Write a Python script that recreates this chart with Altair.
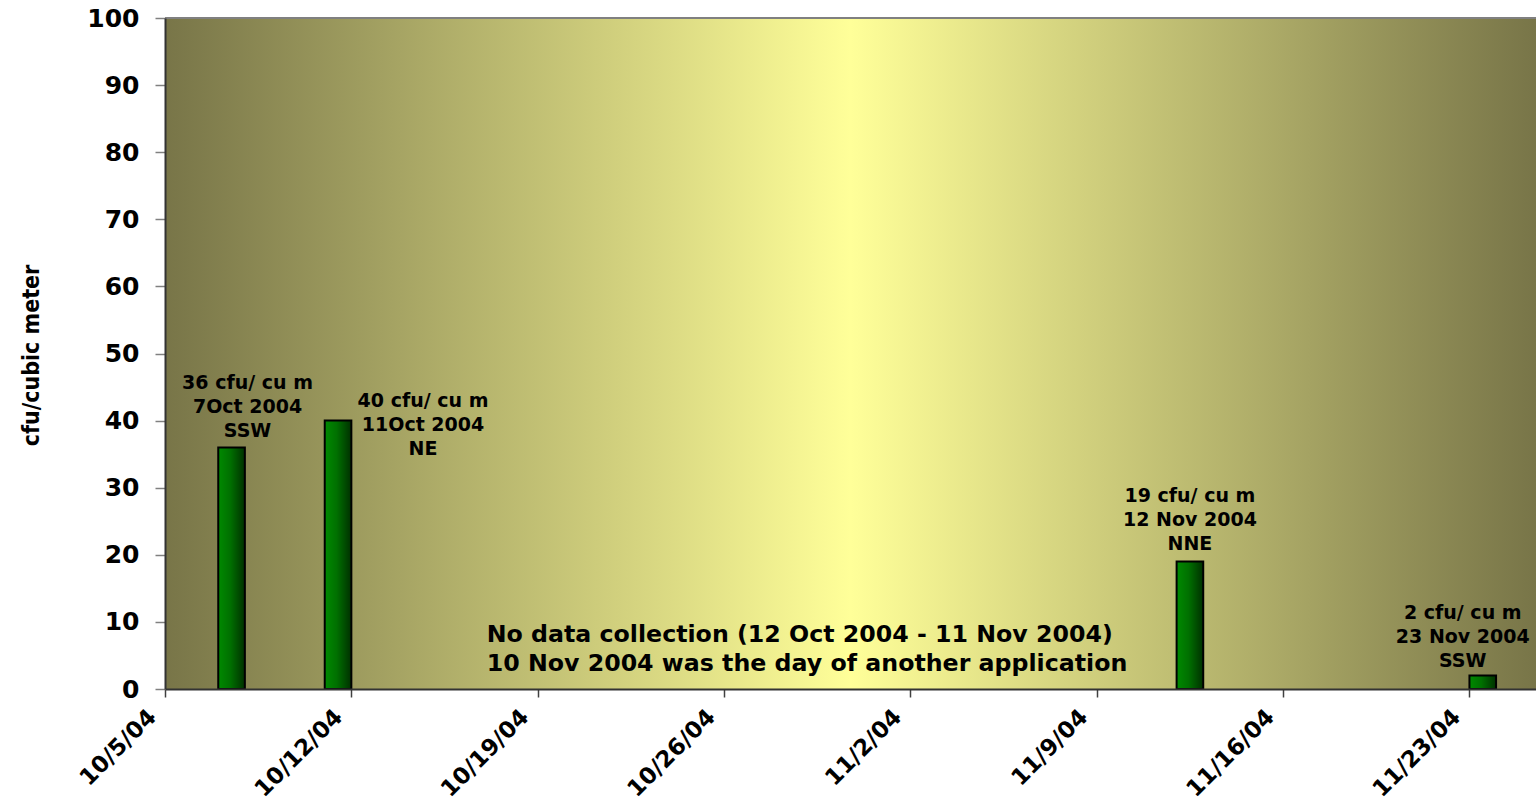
import altair as alt
import pandas as pd

# Airborne counts, one sampling day per bar
sample_dates = ["2004-10-07", "2004-10-11", "2004-11-12", "2004-11-23"]
cfu_values = [36, 40, 19, 2]
date_labels = ["7Oct 2004", "11Oct 2004", "12 Nov 2004", "23 Nov 2004"]
wind_dirs = ["SSW", "NE", "NNE", "SSW"]

# Weekly tick marks on the date axis
tick_dates = ["2004-10-05", "2004-10-12", "2004-10-19", "2004-10-26",
              "2004-11-02", "2004-11-09", "2004-11-16", "2004-11-23"]
y_ticks = [0, 10, 20, 30, 40, 50, 60, 70, 80, 90, 100]

note_lines = ["No data collection (12 Oct 2004 - 11 Nov 2004)",
              "10 Nov 2004 was the day of another application"]
note_anchor = "2004-10-17T02:00:00Z"
note_value = 6

W, H = 1371, 671
FONT = "DejaVu Sans"
ISO = "%Y-%m-%dT%H:%M:%SZ"

start = pd.to_datetime(sample_dates)
bars = pd.DataFrame({
    "start": start.strftime(ISO),
    "end": (start + pd.Timedelta(days=1)).strftime(ISO),
    "mid": (start + pd.Timedelta(hours=12)).strftime(ISO),
    "cfu": cfu_values,
    "label": [[f"{v} cfu/ cu m", d, w] for v, d, w in zip(cfu_values, date_labels, wind_dirs)],
    "idx": list(range(len(cfu_values))),
})


def utc_dt(s):
    t = pd.Timestamp(s)
    return alt.DateTime(year=t.year, month=t.month, date=t.day,
                        hours=t.hour, utc=True)


x_scale = alt.Scale(type="utc",
                    domain=[utc_dt("2004-10-05"), utc_dt("2004-11-25 12:00")])
y_scale = alt.Scale(domain=[0, 100], nice=False)

x_axis = alt.Axis(
    values=[utc_dt(d) for d in tick_dates],
    labelExpr="utcFormat(datum.value, '%-m/%-d/%y')",
    labelAngle=-45, labelAlign="right", labelBaseline="middle",
    labelFont=FONT, labelFontWeight="bold", labelFontSize=23, labelColor="black",
    labelPadding=16, labelOffset=-13, tickSize=8, tickColor="#404040", tickWidth=1.5,
    domainColor="#333333", domainWidth=2, grid=False, title=None, zindex=1,
    labelOverlap=False,
)
y_axis = alt.Axis(
    values=y_ticks, title="cfu/cubic meter",
    labelFont=FONT, labelFontWeight="bold", labelFontSize=25, labelColor="black",
    labelPadding=16, tickSize=10, tickColor="#808080", tickWidth=1.5,
    domainColor="#333333", domainWidth=2, grid=False, zindex=1,
    titleFont="DejaVu Sans Condensed", titleFontWeight="bold", titleFontSize=23,
    titleColor="black", titleAngle=-90, titleAlign="center", titleBaseline="middle",
    titleX=-134, titleY=337,
)

backdrop = alt.Chart(alt.Data(values=[{}])).mark_rect(
    fill=alt.Gradient(
        gradient="linear", x1=0, x2=1, y1=0, y2=0,
        stops=[alt.GradientStop(offset=0, color="#787548"),
               alt.GradientStop(offset=0.5, color="#ffff99"),
               alt.GradientStop(offset=1, color="#787548")],
    )
).encode(x=alt.value(0), x2=alt.value(W), y=alt.value(0), y2=alt.value(H))

columns = alt.Chart(bars).mark_rect(
    fill=alt.Gradient(
        gradient="linear", x1=0, x2=1, y1=0, y2=0,
        stops=[alt.GradientStop(offset=0, color="#008a00"),
               alt.GradientStop(offset=0.45, color="#007000"),
               alt.GradientStop(offset=1, color="#003000")],
    ),
    stroke="black", strokeWidth=2,
).encode(
    x=alt.X("start:T", scale=x_scale, axis=x_axis),
    x2="end:T",
    y=alt.Y("cfu:Q", scale=y_scale, axis=y_axis),
    y2=alt.datum(0),
)

# Each callout sits next to its bar; offsets in pixels (dx, dy) to the first line
callout_offsets = {0: (16, -64), 1: (85, -20), 2: (0, -66), 3: (-20, -63)}

callouts = []
for i, (ox, oy) in callout_offsets.items():
    callouts.append(
        alt.Chart(bars).transform_filter(f"datum.idx == {i}").mark_text(
            font=FONT, fontWeight="bold", fontSize=19, color="black",
            baseline="middle", align="center", lineHeight=24, dx=ox, dy=oy,
        ).encode(x=alt.X("mid:T", scale=x_scale), y=alt.Y("cfu:Q", scale=y_scale), text="label")
    )

note = alt.Chart(alt.Data(values=[{"t": note_anchor, "v": note_value, "text": note_lines}])).mark_text(
    font=FONT, fontWeight="bold", fontSize=23.7, color="black",
    align="left", baseline="middle", lineHeight=29, dy=-14,
).encode(x=alt.X("t:T", scale=x_scale), y=alt.Y("v:Q", scale=y_scale), text="text:N")

top_edge = alt.Chart(alt.Data(values=[{}])).mark_rule(
    color="#808080", strokeWidth=2
).encode(x=alt.value(0), x2=alt.value(W), y=alt.value(0))

chart = alt.layer(backdrop, columns, *callouts, note, top_edge).properties(
    width=W, height=H, autosize="none",
    padding={"left": 165, "top": 18, "right": 0, "bottom": 114},
    background="white",
).configure_view(stroke=None)

chart.save("out.html", embed_options={"renderer": "svg", "actions": False})
